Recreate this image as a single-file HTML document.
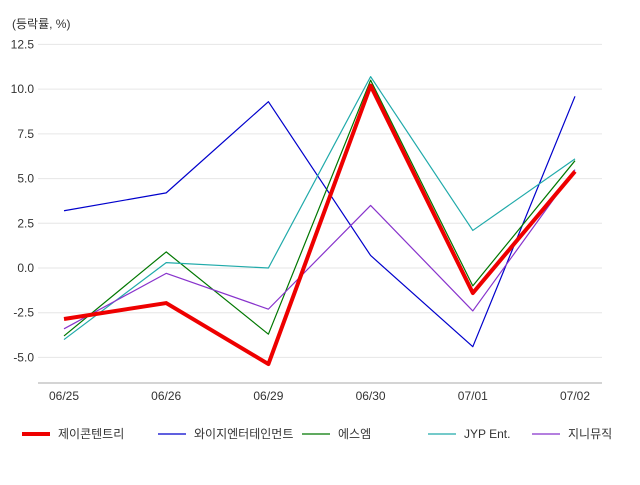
<!DOCTYPE html>
<html><head><meta charset="utf-8"><style>
body{margin:0;background:#fff;font-family:"Liberation Sans","Noto Sans CJK KR",sans-serif;}
svg text{font-family:"Liberation Sans","Noto Sans CJK KR",sans-serif;font-size:12px;fill:#333;}
</style></head><body>
<svg id="chart" width="640" height="480">
<text x="12" y="28">(등락률, %)</text>
<g id="grid"></g><g id="series"></g><g id="legend"></g>
</svg>
<script>
const categories=["06/25","06/26","06/29","06/30","07/01","07/02"];
const yTicks=[12.5,10.0,7.5,5.0,2.5,0.0,-2.5,-5.0];
const seriesNames=["제이콘텐트리","와이지엔터테인먼트","에스엠","JYP Ent.","지니뮤직"];
const s0=[-2.85,-1.96,-5.37,10.2,-1.4,5.4];
const s1=[3.2,4.2,9.3,0.7,-4.4,9.6];
const s2=[-3.8,0.9,-3.7,10.5,-1.0,6.0];
const s3=[-4.0,0.3,0.0,10.7,2.1,6.1];
const s4=[-3.4,-0.3,-2.3,3.5,-2.4,5.5];
const seriesData=[s1,s2,s3,s4,s0];
const order=[1,2,3,4,0];
const colors=["#ee0000","#0000cc","#007700","#20aaaa","#8833cc"];
const widths=[4,1.2,1.2,1.2,1.2];
const ns="http://www.w3.org/2000/svg";
const X=i=>64+i*(575-64)/(categories.length-1);
const Y=v=>268-v*(313/17.5);
function mk(t,a,p){const e=document.createElementNS(ns,t);for(const k in a)e.setAttribute(k,a[k]);p.appendChild(e);return e;}
const g=document.getElementById('grid');
yTicks.forEach(v=>{
 const l=mk('line',{x1:38,x2:602,y1:Y(v),y2:Y(v),stroke:'#e6e6e6'},g);
 
 
 const t=mk('text',{x:34,y:Y(v)+4,'text-anchor':'end'},g);t.textContent=v.toFixed(1);
 
 
});
const ax=mk('line',{x1:38,x2:602,y1:383,y2:383,stroke:'#aaa'},g);


categories.forEach((c,i)=>{
 const t=mk('text',{x:X(i),y:400,'text-anchor':'middle'},g);t.textContent=c;
 
 
});
const sg=document.getElementById('series');
seriesData.forEach((d,k)=>{
 const si=order[k];
 const p=mk('polyline',{points:d.map((v,i)=>X(i)+','+Y(v)).join(' '),fill:'none',stroke:colors[si],'stroke-width':widths[si],'stroke-linejoin':'round'},sg);
 
 
});
const lg=document.getElementById('legend');
const lx=[22,158,302,428,532];
seriesNames.forEach((n,i)=>{
 const e=mk('g',{},lg);
 
 
 mk('line',{x1:lx[i],x2:lx[i]+28,y1:434,y2:434,stroke:colors[i],'stroke-width':widths[i]},e);
 const t=mk('text',{x:lx[i]+36,y:438},e);t.textContent=n;
});
</script>
</body></html>
